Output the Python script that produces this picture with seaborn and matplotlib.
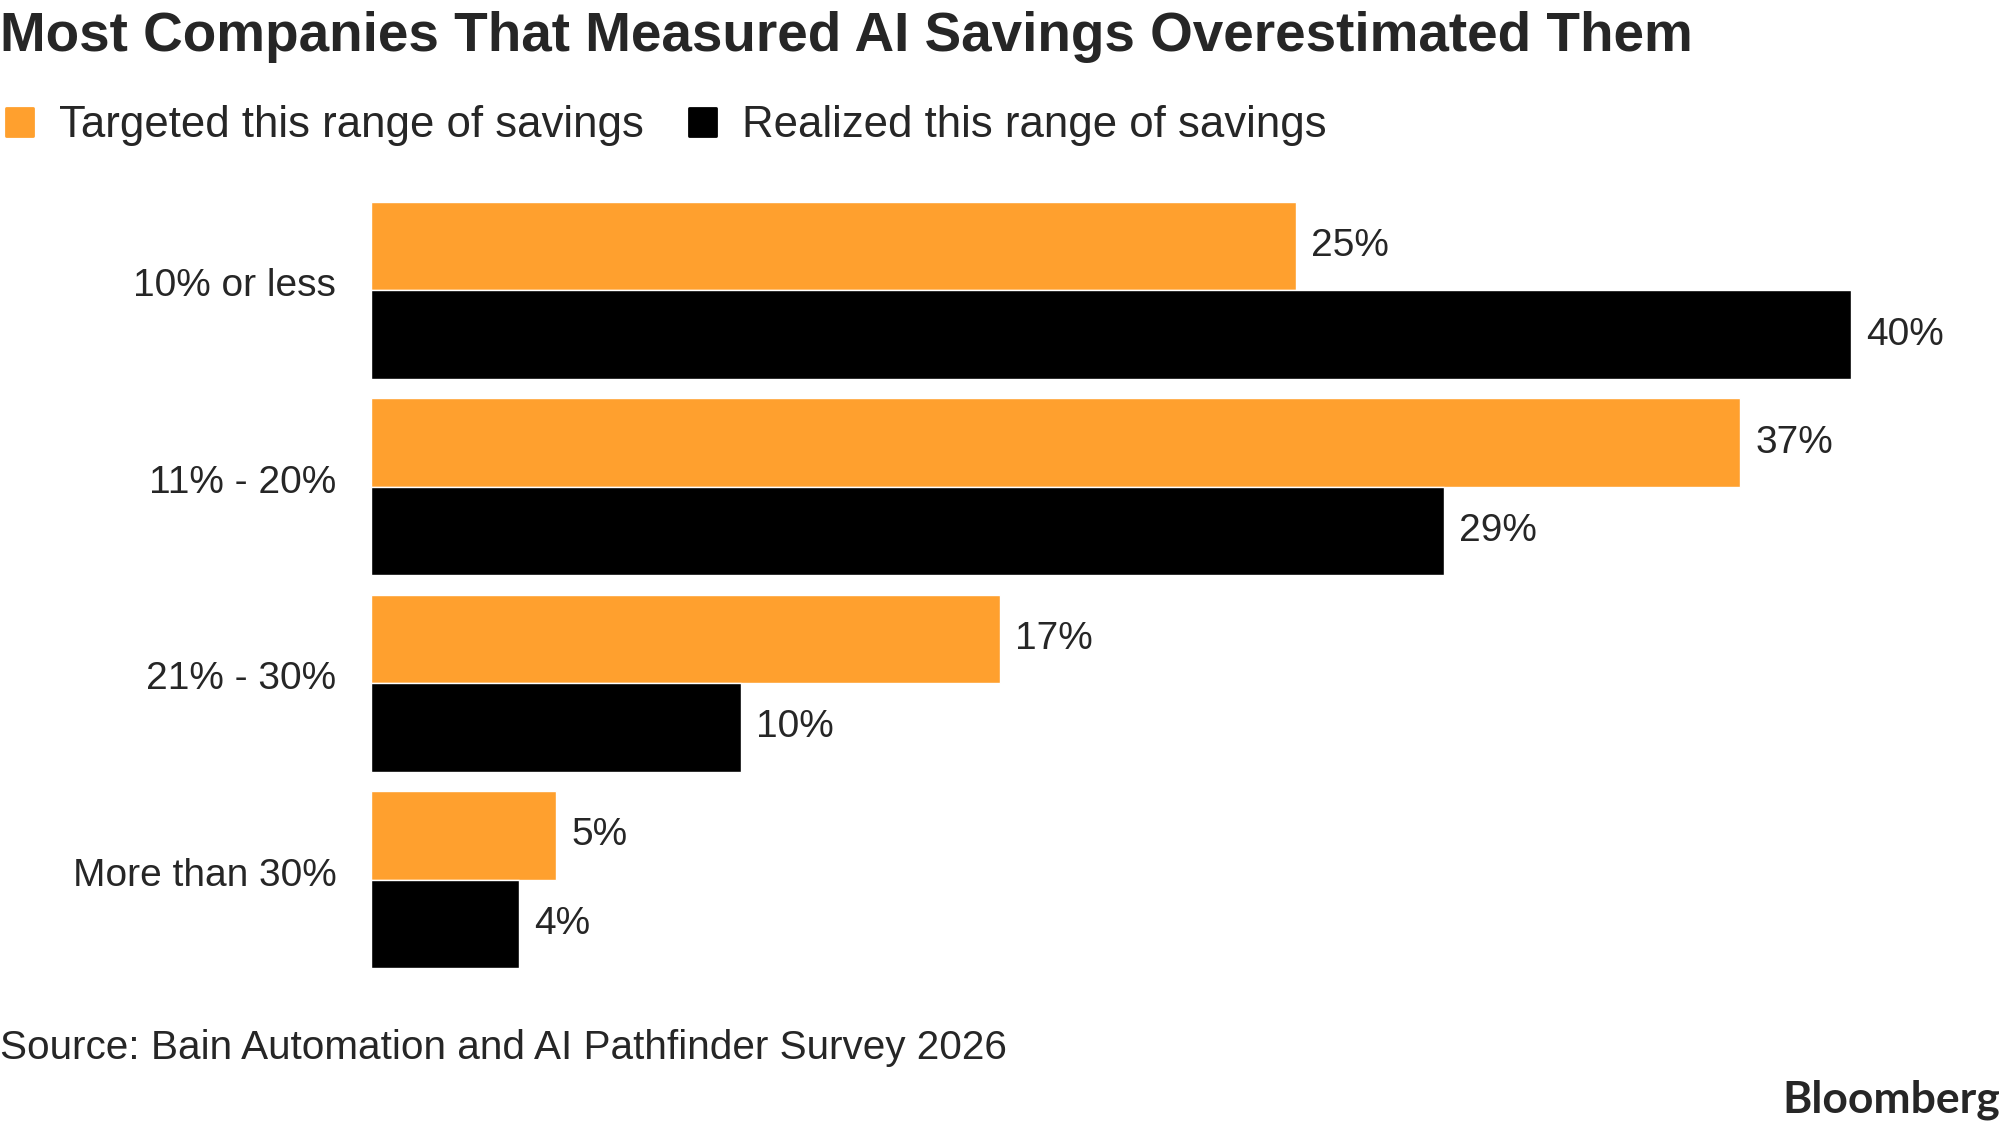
import matplotlib
matplotlib.use('Agg')
import matplotlib.pyplot as plt
import matplotlib.transforms as mtransforms
import seaborn as sns
import pandas as pd

# Dados do gráfico
CATEGORIAS = ['10% or less', '11% - 20%', '21% - 30%', 'More than 30%']
TARGETED = [25, 37, 17, 5]
REALIZED = [40, 29, 10, 4]
SERIES = ['Targeted this range of savings', 'Realized this range of savings']

COR_LARANJA = '#FFA02E'
COR_PRETA = '#000000'

sns.set_style("white")
plt.rcParams['font.family'] = ['Liberation Sans', 'DejaVu Sans']

df = pd.DataFrame({
    'categoria': CATEGORIAS * 2,
    'valor': TARGETED + REALIZED,
    'serie': [SERIES[0]] * len(CATEGORIAS) + [SERIES[1]] * len(CATEGORIAS),
})

fig = plt.figure(figsize=(20.04, 11.28), dpi=100)
ax = fig.add_axes([371 / 2004, 1 - 968 / 1128, 1628 / 2004, 766 / 1128])

sns.barplot(
    data=df, y='categoria', x='valor', hue='serie',
    order=CATEGORIAS, hue_order=SERIES,
    palette=[COR_LARANJA, COR_PRETA],
    orient='h', width=0.9, saturation=1, ax=ax
)

ax.set_xlim(0, 44)
ax.set_ylim(3.45, -0.45)
ax.set_xlabel('')
ax.set_ylabel('')
ax.set_xticks([])
for s in ax.spines.values():
    s.set_visible(False)
ax.tick_params(axis='y', length=0, pad=25, labelsize=28)

# rótulos das categorias um pouco acima do centro do grupo
desloc = mtransforms.ScaledTranslation(0, 8 / 100, fig.dpi_scale_trans)
for lbl in ax.get_yticklabels():
    lbl.set_transform(lbl.get_transform() + desloc)

for cont in ax.containers:
    ax.bar_label(cont, labels=[f'{v:.0f}%' for v in cont.datavalues],
                 padding=11, fontsize=28)

sns.move_legend(
    ax, 'center left', bbox_to_anchor=(0.003, 1 - 126 / 1128),
    bbox_transform=fig.transFigure, ncol=2, frameon=False, title=None,
    fontsize=31.5, handlelength=0.62, handleheight=0.62, handletextpad=0.6,
    columnspacing=1.02, borderpad=0, borderaxespad=0,
)
for h in ax.get_legend().legend_handles:
    h.set_joinstyle('round')
    h.set_linewidth(2)
    h.set_edgecolor(h.get_facecolor())

fig.text(0.0, 1 - 51 / 1128, 'Most Companies That Measured AI Savings Overestimated Them',
         fontsize=39.5, fontweight='bold', ha='left', va='baseline')
fig.text(0.0, 1 - 1059 / 1128, 'Source: Bain Automation and AI Pathfinder Survey 2026',
         fontsize=29.2, ha='left', va='baseline')
fig.text(0.998, 1 - 1112 / 1128, 'Bloomberg', fontsize=32, fontweight='bold',
         family=['Lato', 'DejaVu Sans'], ha='right', va='baseline')

fig.savefig('out.png', dpi=100, facecolor='white')
